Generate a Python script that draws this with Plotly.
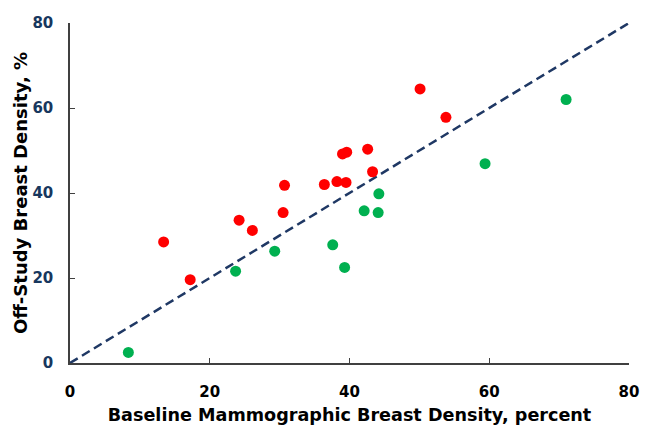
import plotly.graph_objects as go

# Data
red_x = [13.4, 17.2, 24.2, 26.1, 30.5, 30.7, 36.4, 38.2, 39.5, 39.0, 39.6, 42.6, 43.3, 50.1, 53.8]
red_y = [28.5, 19.6, 33.6, 31.2, 35.4, 41.8, 42.0, 42.7, 42.5, 49.2, 49.6, 50.3, 45.0, 64.5, 57.8]
green_x = [8.35, 23.7, 29.3, 37.6, 39.3, 42.1, 44.1, 44.2, 59.4, 71.0]
green_y = [2.5, 21.6, 26.3, 27.8, 22.5, 35.8, 35.4, 39.8, 46.9, 62.0]
diag_x = [0, 80]
diag_y = [0, 80]
tick_vals = [0, 20, 40, 60, 80]
x_title = "Baseline Mammographic Breast Density, percent"
y_title = "Off-Study Breast Density, %"

fig = go.Figure()
fig.add_trace(go.Scatter(x=diag_x, y=diag_y, mode="lines",
                         line=dict(color="#1F3864", width=2.5, dash="9px,5px"),
                         hoverinfo="skip", showlegend=False))
fig.add_trace(go.Scatter(x=red_x, y=red_y, mode="markers",
                         marker=dict(color="#FF0000", size=11), showlegend=False))
fig.add_trace(go.Scatter(x=green_x, y=green_y, mode="markers",
                         marker=dict(color="#00B050", size=11), showlegend=False))

font_family = "DejaVu Sans, Arial, sans-serif"
fig.update_layout(
    width=658, height=441,
    margin=dict(l=70, r=29, t=23, b=78),
    paper_bgcolor="white", plot_bgcolor="white",
    font=dict(family=font_family),
    xaxis=dict(
        range=[0, 80], tickvals=tick_vals, showgrid=False, zeroline=False,
        showline=True, linecolor="#404040", linewidth=1.5,
        ticks="inside", ticklen=5, tickcolor="#404040",
        tickfont=dict(size=15, color="black", family=font_family, weight="bold"),
        ticklabelstandoff=14,
        title=dict(text="<b>" + x_title + "</b>", font=dict(size=17.6, color="black"), standoff=9),
        automargin=False,
    ),
    yaxis=dict(
        range=[0, 80], tickvals=tick_vals, showgrid=False, zeroline=False,
        showline=True, linecolor="#404040", linewidth=1.5,
        ticks="inside", ticklen=5, tickcolor="#404040",
        tickfont=dict(size=15, color="#17375E", family=font_family, weight="bold"),
        ticklabelstandoff=12,
        title=dict(text="<b>" + y_title + "</b>", font=dict(size=18, color="black"), standoff=0),
        automargin=False,
    ),
)
fig.write_html("out.html", config={"displayModeBar": False},
               post_script="document.body.style.margin='0';")
